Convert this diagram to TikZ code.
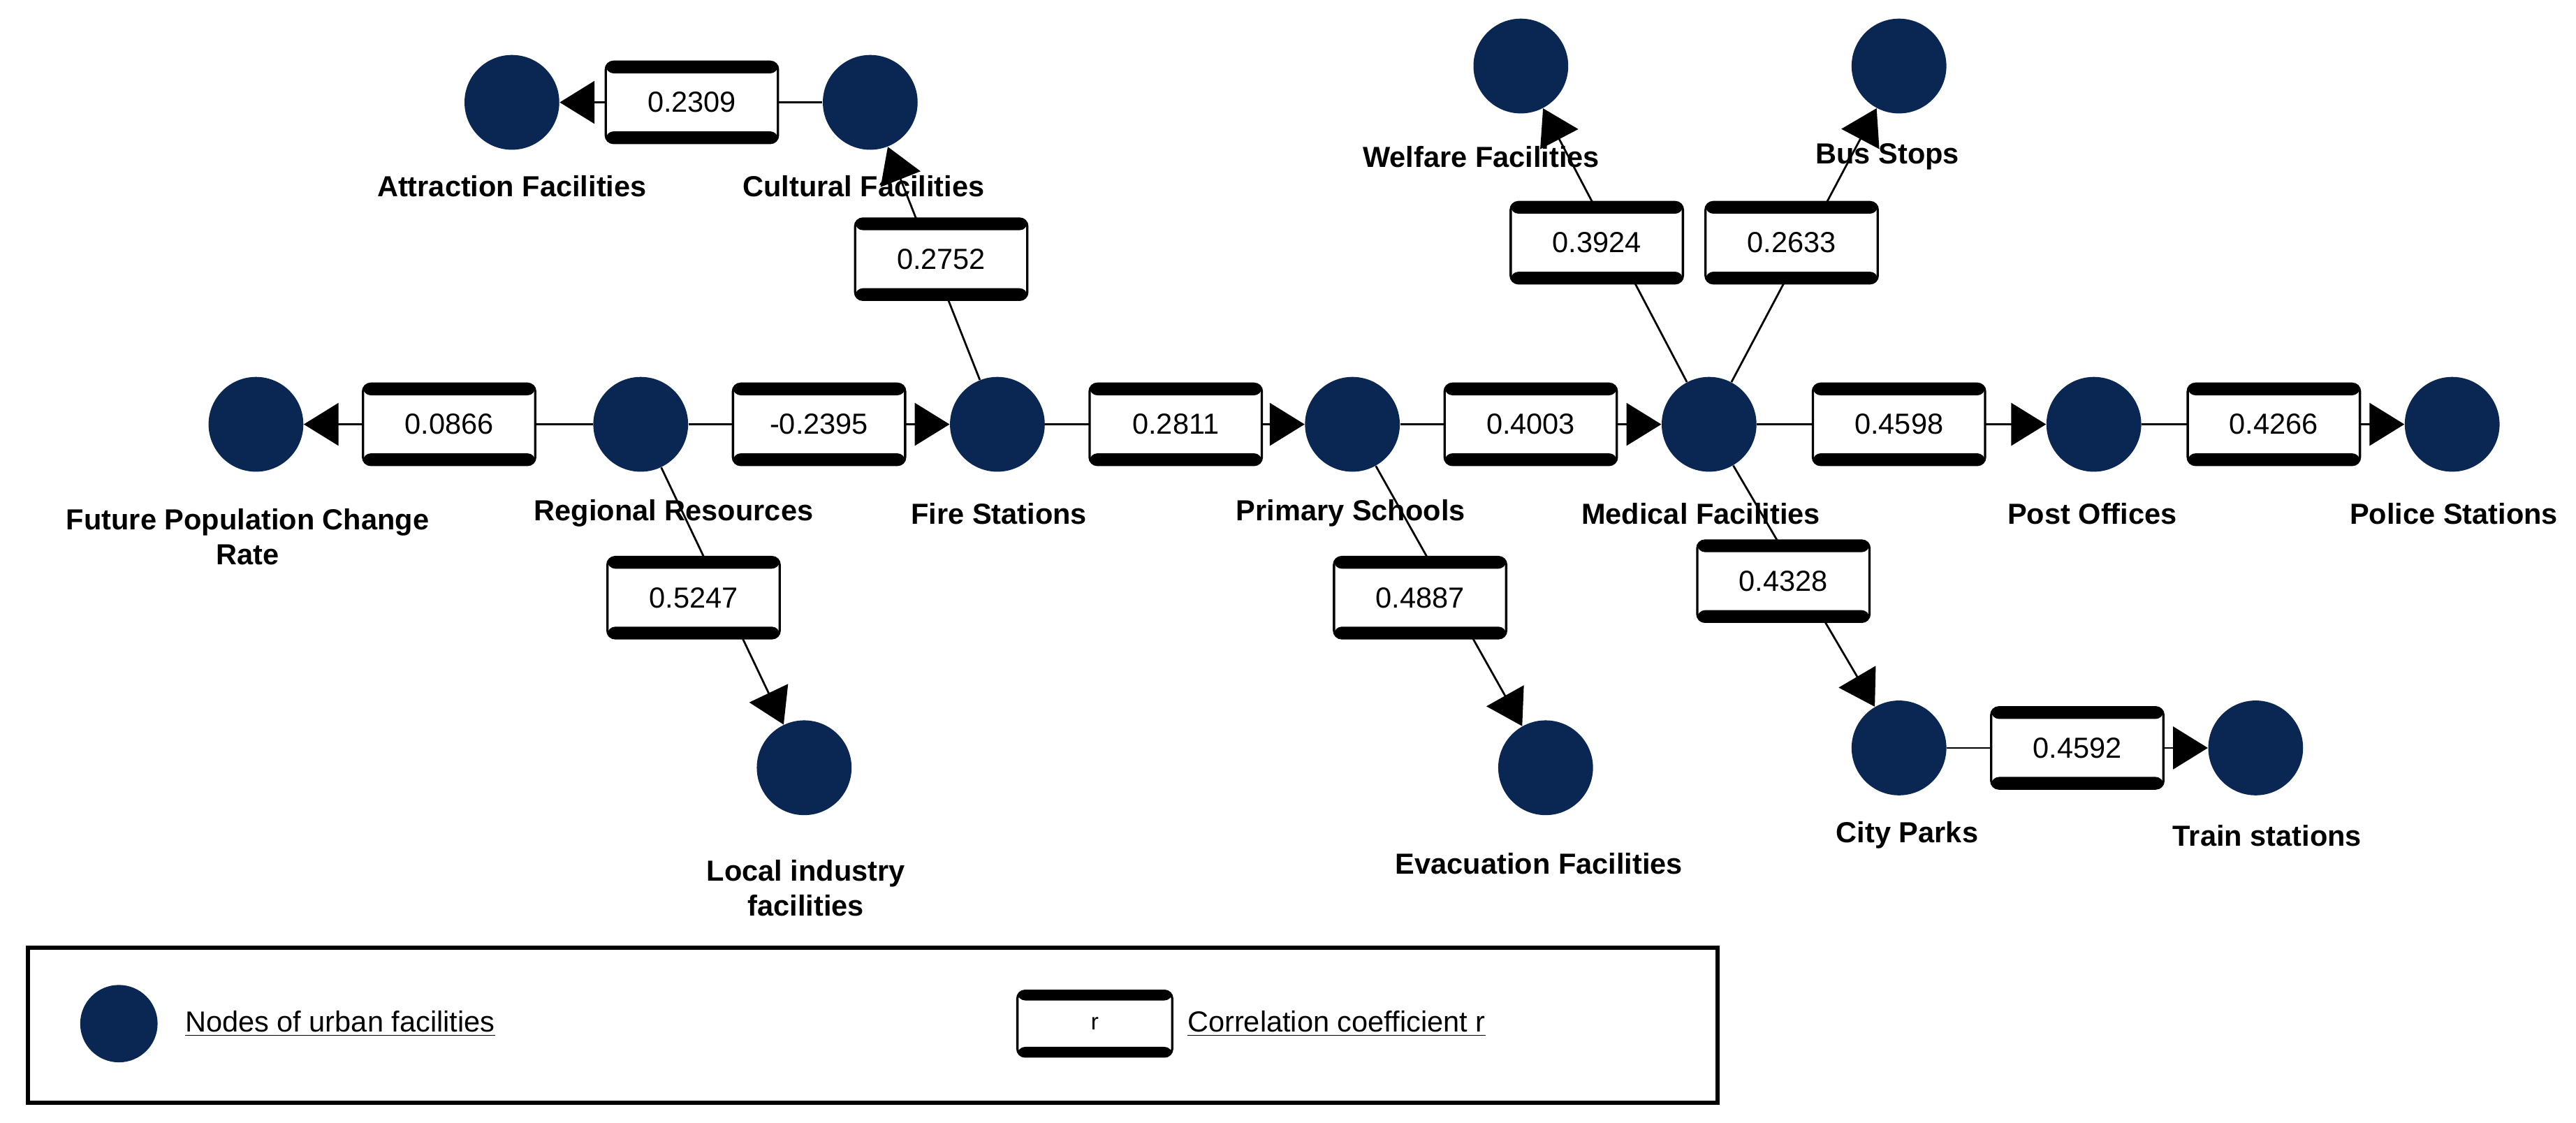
\documentclass[tikz,border=0pt]{standalone}
\usepackage{fontspec}
\setmainfont{Liberation Sans}
\usetikzlibrary{arrows.meta}
\definecolor{navy}{RGB}{10,38,82}
\begin{document}
\begin{tikzpicture}[x=0.03cm,y=-0.03cm,
 fac/.style={circle,fill=navy,minimum size=49pt,inner sep=0pt},
 lab/.style={font=\fontsize{15}{18}\selectfont\bfseries,align=center},
 cbox/.style={draw=black,line width=1.2pt,rounded corners=4pt,fill=white,minimum width=89pt,minimum height=42pt,inner sep=0pt,font=\fontsize{15}{18}\selectfont,
   path picture={\fill[black] (path picture bounding box.north west) rectangle ([yshift=-6pt]path picture bounding box.north east);
                 \fill[black] (path picture bounding box.south west) rectangle ([yshift=6pt]path picture bounding box.south east);}},
 edge/.style={line width=1pt,-{Triangle[length=18pt,width=22pt]}},
 plain/.style={line width=1pt}]
\useasboundingbox (0,0) rectangle (1560,680);
% facility nodes
\node[fac] (attr) at (310,62) {};
\node[fac] (cult) at (527,62) {};
\node[fac] (fire) at (604,257) {};
\node[fac] (fut) at (155,257) {};
\node[fac] (reg) at (388,257) {};
\node[fac] (prim) at (819,257) {};
\node[fac] (med) at (1035,257) {};
\node[fac] (post) at (1268,257) {};
\node[fac] (pol) at (1485,257) {};
\node[fac] (welf) at (921,40) {};
\node[fac] (bus) at (1150,40) {};
\node[fac] (loc) at (487,465) {};
\node[fac] (evac) at (936,465) {};
\node[fac] (park) at (1150,453) {};
\node[fac] (train) at (1366,453) {};
% edges
\draw[edge] (cult) -- (attr);
\draw[edge] (fire) -- (cult);
\draw[edge] (reg) -- (fut);
\draw[edge] (reg) -- (fire);
\draw[edge] (fire) -- (prim);
\draw[edge] (prim) -- (med);
\draw[edge] (med) -- (post);
\draw[edge] (post) -- (pol);
\draw[edge] (reg) -- (loc);
\draw[edge] (prim) -- (evac);
\draw[edge] (med) -- (park);
\draw[edge] (park) -- (train);
\draw[edge] (med) -- (welf);
\draw[edge] (med) -- (bus);
% coefficient boxes
\node[cbox] (c1) at (419,62) {0.2309};
\node[cbox] (c2) at (570,157) {0.2752};
\node[cbox] (c3) at (272,257) {0.0866};
\node[cbox] (c4) at (496,257) {-0.2395};
\node[cbox] (c5) at (712,257) {0.2811};
\node[cbox] (c6) at (927,257) {0.4003};
\node[cbox] (c7) at (1150,257) {0.4598};
\node[cbox] (c8) at (1377,257) {0.4266};
\node[cbox] (c9) at (420,362) {0.5247};
\node[cbox] (c10) at (860,362) {0.4887};
\node[cbox] (c11) at (1080,352) {0.4328};
\node[cbox] (c12) at (1258,453) {0.4592};
\node[cbox] (c13) at (967,147) {0.3924};
\node[cbox] (c14) at (1085,147) {0.2633};
% labels
\node[lab] (l1) at (310,113) {Attraction Facilities};
\node[lab] (l2) at (523,113) {Cultural Facilities};
\node[lab] (l3) at (150,325) {Future Population Change\\Rate};
\node[lab] (l4) at (408,311) {Regional Resources};
\node[lab] (l5) at (605,311) {Fire Stations};
\node[lab] (l6) at (818,311) {Primary Schools};
\node[lab] (l7) at (1030,311) {Medical Facilities};
\node[lab] (l8) at (1267,311) {Post Offices};
\node[lab] (l9) at (1486,311) {Police Stations};
\node[lab] (l10) at (897,95) {Welfare Facilities};
\node[lab] (l11) at (1143,95) {Bus Stops};
\node[lab] (l12) at (488,538) {Local industry\\facilities};
\node[lab] (l13) at (932,523) {Evacuation Facilities};
\node[lab] (l14) at (1155,506) {City Parks};
\node[lab] (l15) at (1373,506) {Train stations};
% legend
\node[draw=black,line width=2pt,minimum width=30.7cm,minimum height=2.82cm,inner sep=0pt] (leg) at (528.5,621) {};
\node[fac,minimum size=40pt] (lc) at (72,620) {};
\node[anchor=west,font=\fontsize{15}{18}\selectfont] (lt1) at (108,620) {\underline{Nodes of urban facilities}};
\node[draw=black,line width=1.2pt,rounded corners=4pt,fill=white,minimum width=80pt,minimum height=34pt,inner sep=0pt,font=\fontsize{12}{14}\selectfont,
   path picture={\fill[black] (path picture bounding box.north west) rectangle ([yshift=-5pt]path picture bounding box.north east);
                 \fill[black] (path picture bounding box.south west) rectangle ([yshift=5pt]path picture bounding box.south east);}] (lr) at (663,620) {r};
\node[anchor=west,font=\fontsize{15}{18}\selectfont] (lt2) at (715,620) {\underline{Correlation coefficient r}};
\end{tikzpicture}
\end{document}
